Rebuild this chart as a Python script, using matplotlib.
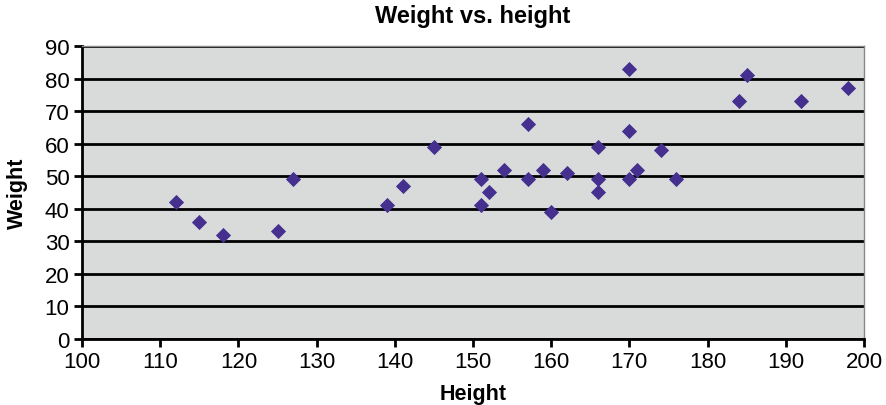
import matplotlib
matplotlib.use("Agg")
import matplotlib.pyplot as plt

heights = [112, 115, 118, 125, 127, 139, 141, 145, 151, 151, 152, 154, 157, 157,
           159, 160, 162, 166, 166, 166, 170, 170, 170, 171, 174, 176, 184, 185, 192, 198]
weights = [42, 36, 32, 33, 49, 41, 47, 59, 49, 41, 45, 52, 66, 49,
           52, 39, 51, 59, 49, 45, 83, 64, 49, 52, 58, 49, 73, 81, 73, 77]
xticks = list(range(100, 201, 10))
yticks = list(range(0, 91, 10))

plt.rcParams['font.family'] = ['Liberation Sans', 'DejaVu Sans']
fig = plt.figure(figsize=(8.87, 4.06), dpi=100)
ax = fig.add_axes([0.0925, 0.163, 0.8815, 0.721])
ax.set_facecolor('#d9dbdb')
ax.set_xlim(100, 200)
ax.set_ylim(0, 90)
ax.set_xticks(xticks)
ax.set_yticks(yticks)
ax.yaxis.grid(True, color='black', linewidth=2)
ax.set_axisbelow(True)
ax.scatter(heights, weights, marker='D', s=60, color='#45308f', zorder=3, linewidths=0)
for s in ['top', 'right']:
    ax.spines[s].set_color('#888888')
    ax.spines[s].set_linewidth(1)
for s in ['left', 'bottom']:
    ax.spines[s].set_color('black')
    ax.spines[s].set_linewidth(2)
ax.tick_params(direction='out', length=6, width=2, labelsize=16, colors='black', pad=3)
ax.set_title('Weight vs. height', fontsize=17, fontweight='bold', pad=17)
ax.set_xlabel('Height', fontsize=15.5, fontweight='bold', labelpad=8)
ax.set_ylabel('Weight', fontsize=15.5, fontweight='bold', labelpad=12)
fig.savefig('out.png', dpi=100)
